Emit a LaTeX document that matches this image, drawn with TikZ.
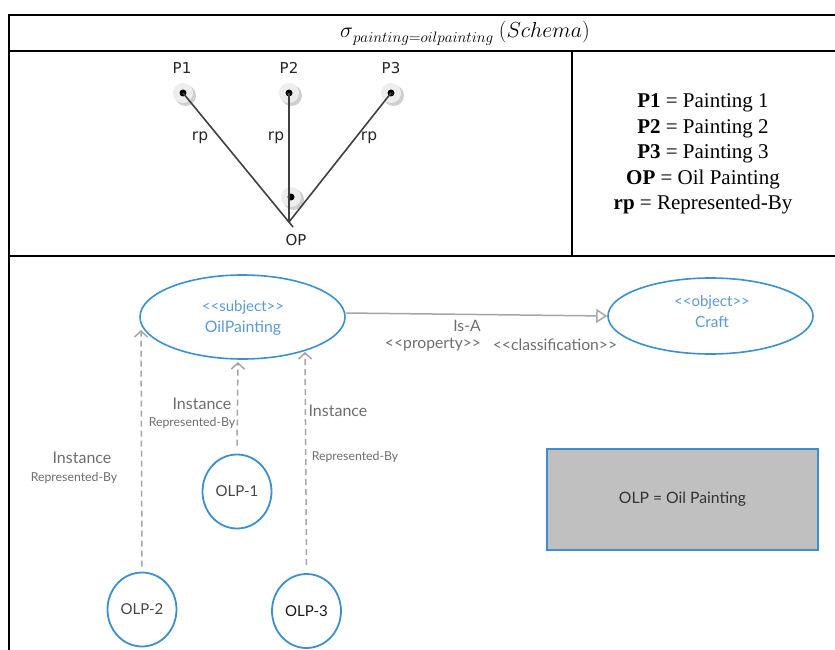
\documentclass[tikz,border=0pt]{standalone}
\usepackage{fontspec}
\setmainfont{Liberation Serif}
\newfontfamily\lato{Lato}
\newfontfamily\dejasans{DejaVu Sans}
\usetikzlibrary{arrows.meta,shapes.geometric}
\definecolor{umlblue}{HTML}{3C8FD0}
\definecolor{umltext}{HTML}{5B9BD5}
\definecolor{arrgray}{HTML}{A6A6A6}
\definecolor{lblgray}{HTML}{6E6E6E}
\definecolor{boxgray}{HTML}{C0C0C0}
\begin{document}
\begin{tikzpicture}[x=1pt,y=-1pt,
  frame/.style={line width=2pt,black},
  pt/.style={circle,fill=black,inner sep=0pt,minimum size=7pt},
  ptlbl/.style={font=\dejasans\fontsize{15}{17}\selectfont,text=black!85},
  rplbl/.style={font=\dejasans\fontsize{15.5}{17}\selectfont,text=black!85},
  edge/.style={line width=1.6pt,black!75},
  uml/.style={ellipse,draw=umlblue,line width=1.6pt,fill=white,inner sep=0pt},
  stereo/.style={font=\lato\fontsize{15}{17}\selectfont,text=umltext},
  olp/.style={ellipse,draw=umlblue,line width=1.8pt,fill=white,inner sep=0pt,minimum width=69pt,minimum height=74pt,font=\lato\fontsize{15}{17}\selectfont,text=black!72},
  inst/.style={dashed,dash pattern=on 6pt off 4pt,line width=1.5pt,arrgray,-{Straight Barb[length=6pt,width=13pt,line width=1.5pt]}},
  big/.style={font=\lato\fontsize{16}{18}\selectfont,text=lblgray},
  small/.style={font=\lato\fontsize{12.3}{14}\selectfont,text=lblgray},
  rel/.style={font=\lato\fontsize{15.7}{18}\selectfont,text=lblgray},
]
\useasboundingbox (0,0) rectangle (835,650);
\fill[white] (0,0) rectangle (835,650);

% table frame
\draw[frame] (835,15) -- (9,15) -- (9,650);
\draw[frame] (9,51) -- (835,51);
\draw[frame] (9,256) -- (835,256);
\draw[frame] (572,51) -- (572,256);

% title
\node[scale=1.05] (title) at (465,33) {\fontsize{20.74}{24}\selectfont$\sigma$\raisebox{-4.5pt}{\fontsize{14.4}{17}\selectfont$painting{=}oilpainting$}\ \fontsize{20.74}{24}\selectfont$(Schema)$};

% schema graph
\foreach \n/\x/\y in {P1/183/93,P2/289/93,P3/391/93,OPd/291/197}{
  \fill[gray!38] (\x+2.5,\y+2.5) circle (10.5pt);
  \fill[gray!14] (\x,\y) circle (10pt);
  \node[pt] (\n) at (\x,\y) {};
}
\coordinate (OPa) at (293,227);
\coordinate (OPb) at (289,222);
\draw[edge] (P1.center) -- (OPa);
\draw[edge] (P2.center) -- (OPb);
\draw[edge] (P3.center) -- (OPb);
\node[ptlbl] (lP1) at (182,68) {P1};
\node[ptlbl] (lP2) at (289,68) {P2};
\node[ptlbl] (lP3) at (391,68) {P3};
\node[ptlbl] (lOP) at (296,240) {OP};
\node[rplbl] (r1) at (200,138) {rp};
\node[rplbl] (r2) at (276,138) {rp};
\node[rplbl] (r3) at (369,138) {rp};

% legend
\node[align=center,font=\fontsize{21}{25.5}\selectfont] (legend) at (703,154)
 {\textbf{P1} = Painting 1\\ \textbf{P2} = Painting 2\\ \textbf{P3} = Painting 3\\ \textbf{OP} = Oil Painting\\ \textbf{rp} = Represented-By};

% bottom diagram
\node[uml,minimum width=205pt,minimum height=84pt] (subj) at (242.5,317) {};
\node[stereo] (subjA) at (243,307) {<{}<subject>{}>};
\node[stereo,font=\lato\fontsize{15.8}{18}\selectfont] (subjB) at (243,328) {OilPainting};

\node[uml,minimum width=205pt,minimum height=76pt] (obj) at (710.5,316) {};
\node[stereo] (objA) at (712,302) {<{}<object>{}>};
\node[stereo,font=\lato\fontsize{15.4}{18}\selectfont] (objB) at (712,322) {Craft};

\draw[arrgray,line width=1.5pt,-{Triangle[open,length=11pt,width=14pt,line width=1.5pt]}] (subj.east |- 0,313) -- (obj.west);
\node[rel] (isa) at (467,326) {Is-A};
\node[rel] (prop) at (433,345) {<{}<property>{}>};
\node[rel] (cls) at (555,345) {<{}<classification>{}>};

\node[olp] (o1) at (237,491.5) {OLP-1};
\node[olp] (o2) at (142,609.5) {OLP-2};
\node[olp,text=black!90] (o3) at (306.5,611) {OLP-3};

\coordinate (t2) at (141,330);
\coordinate (t1) at (238,362);
\coordinate (t3) at (305,352);
\draw[inst] (o2.north) ++(0,-5) -- (t2);
\draw[inst] (o1.north) ++(0,-8) -- (t1);
\draw[inst] (o3.north) ++(0,-8) -- (t3);

\node[big] (i1) at (202,404) {Instance};
\node[small] (rb1) at (192,423) {Represented-By};
\node[big] (i3) at (338,411) {Instance};
\node[small] (rb3) at (355,457) {Represented-By};
\node[big] (i2) at (82,458) {Instance};
\node[small] (rb2) at (74,478) {Represented-By};

\node[draw=umlblue,line width=1.6pt,fill=boxgray,minimum width=271pt,minimum height=101pt,font=\lato\fontsize{15.7}{18}\selectfont,text=black!80] (key) at (682.5,499.5) {OLP = Oil Painting};
\end{tikzpicture}
\end{document}
